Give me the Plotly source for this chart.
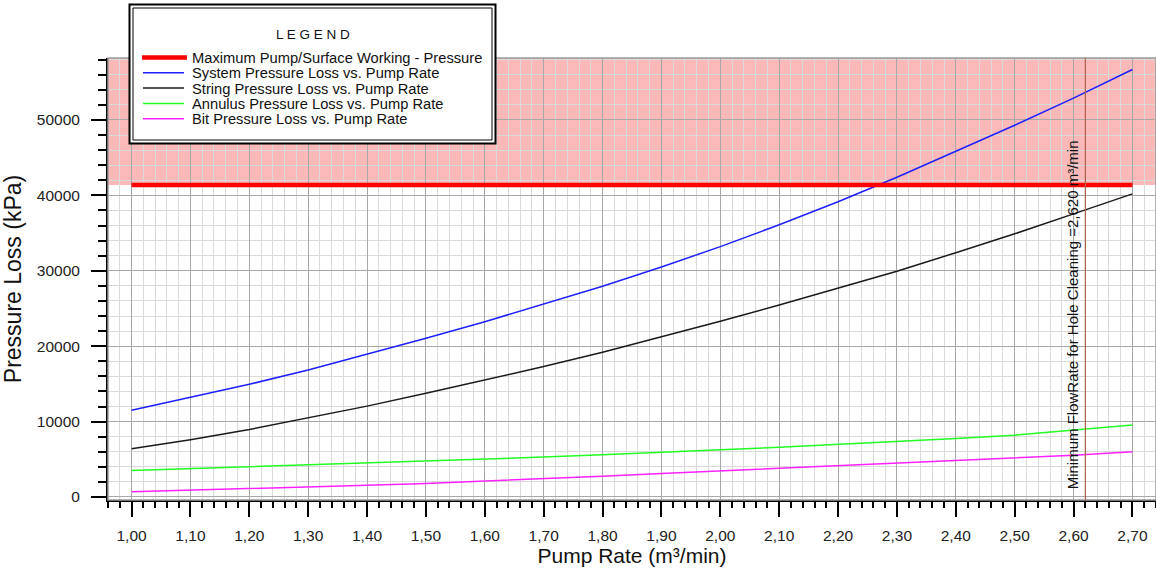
import plotly.graph_objects as go

# ---- data -------------------------------------------------------------
pump_rate = [1.00, 1.10, 1.20, 1.30, 1.40, 1.50, 1.60, 1.70, 1.80,
             1.90, 2.00, 2.10, 2.20, 2.30, 2.40, 2.50, 2.60, 2.70]
system_loss = [11500, 13200, 14950, 16850, 18900, 21050, 23250, 25550, 27950,
               30500, 33200, 36100, 39150, 42400, 45800, 49300, 52900, 56700]
string_loss = [6400, 7600, 8950, 10450, 12050, 13750, 15500, 17300, 19200,
               21200, 23300, 25450, 27650, 29950, 32400, 34900, 37550, 40200]
annulus_loss = [3500, 3750, 4000, 4250, 4500, 4750, 5000, 5300, 5600,
                5900, 6250, 6600, 6950, 7350, 7750, 8200, 8900, 9550]
bit_loss = [700, 900, 1100, 1300, 1550, 1800, 2100, 2400, 2750,
            3100, 3450, 3800, 4100, 4450, 4800, 5150, 5550, 6000]

max_working_pressure = 41368          # kPa
min_hole_cleaning_rate = 2.62         # m³/min

series_names = [
    "Maximum Pump/Surface Working - Pressure",
    "System Pressure Loss vs. Pump Rate",
    "String Pressure Loss vs. Pump Rate",
    "Annulus Pressure Loss vs. Pump Rate",
    "Bit Pressure Loss vs. Pump Rate",
]
series_colors = ["#ff0000", "#1f1fff", "#1a1a1a", "#22ff22", "#ff22ff"]
series_widths = [4.5, 1.5, 1.5, 1.5, 1.5]

# ---- page geometry ----------------------------------------------------
W, H = 1156, 570
FONT = "Liberation Sans, Arial, sans-serif"


def px(x):
    return x / W


def py(y):
    return 1 - y / H


x_range = [0.96, 2.74]
y_range = [-400, 58220]

fig = go.Figure()

for name, vals, col, w in zip(series_names[1:],
                              [system_loss, string_loss, annulus_loss, bit_loss],
                              series_colors[1:], series_widths[1:]):
    fig.add_trace(go.Scatter(
        x=pump_rate, y=vals, mode="lines", name=name,
        line=dict(color=col, width=w), showlegend=False))

# pressure limit line, drawn over the curves
fig.add_trace(go.Scatter(
    x=[pump_rate[0], pump_rate[-1]],
    y=[max_working_pressure, max_working_pressure],
    mode="lines", name=series_names[0],
    line=dict(color=series_colors[0], width=series_widths[0]),
    showlegend=False, hoverinfo="skip"))

shapes = []
# zone above the working pressure limit
shapes.append(dict(type="rect", xref="x domain", yref="y",
                   x0=0, x1=1, y0=max_working_pressure, y1=y_range[1],
                   fillcolor="#fbb8b8", line=dict(width=0), layer="below"))
# plot frame
shapes.append(dict(type="rect", xref="x domain", yref="y domain",
                   x0=0, x1=1, y0=0, y1=1,
                   line=dict(color="#9a9a9a", width=1.5), layer="above"))
# minimum hole-cleaning flow rate
shapes.append(dict(type="line", xref="x", yref="y domain",
                   x0=min_hole_cleaning_rate, x1=min_hole_cleaning_rate,
                   y0=0, y1=1, line=dict(color="#b0604a", width=1.2),
                   layer="above"))

# legend box (double frame)
shapes.append(dict(type="rect", xref="paper", yref="paper",
                   x0=px(129.5), x1=px(495.5), y0=py(143.5), y1=py(4.5),
                   fillcolor="white", line=dict(color="black", width=2),
                   layer="above"))
shapes.append(dict(type="rect", xref="paper", yref="paper",
                   x0=px(133), x1=px(492), y0=py(140), y1=py(8),
                   line=dict(color="black", width=1), layer="above"))

annotations = [dict(text="L E G E N D", xref="paper", yref="paper",
                    x=px(312.5), y=py(35), xanchor="center", yanchor="middle",
                    showarrow=False, font=dict(family=FONT, size=13.5, color="#111"))]

for i, (name, col, w) in enumerate(zip(series_names, series_colors, series_widths)):
    row = 57.5 + i * 15.3
    x_start = 142 if i == 0 else 143
    x_end = 187 if i == 0 else 184
    shapes.append(dict(type="line", xref="paper", yref="paper",
                       x0=px(x_start), x1=px(x_end), y0=py(row), y1=py(row),
                       line=dict(color=col, width=w), layer="above"))
    annotations.append(dict(text=name, xref="paper", yref="paper",
                            x=px(190), y=py(row + 0.5), xanchor="left",
                            yanchor="middle", showarrow=False,
                            font=dict(family=FONT, size=14.7, color="#111")))

annotations.append(dict(
    text="Minimum FlowRate for Hole Cleaning =2,620 m³/min",
    xref="x", yref="y", x=min_hole_cleaning_rate, y=y_range[0],
    xanchor="right", yanchor="bottom", xshift=-2, yshift=9,
    textangle=-90, showarrow=False,
    font=dict(family=FONT, size=15, color="#111")))

axis_common = dict(
    showline=True, linecolor="black", linewidth=2,
    ticks="outside", ticklen=15, tickwidth=1.5, tickcolor="black",
    showgrid=True, gridcolor="#a8a8a8", gridwidth=1.4,
    zeroline=False, automargin=False,
    tickfont=dict(family=FONT, size=15.5, color="#222"),
)

minor_common = dict(ticks="outside", tickwidth=1.5, tickcolor="black",
                    showgrid=True, gridcolor="#dadada", gridwidth=1.4)

fig.update_layout(
    width=W, height=H,
    margin=dict(l=0, r=0, t=0, b=0),
    paper_bgcolor="white", plot_bgcolor="white",
    separators=",.",
    showlegend=False,
    shapes=shapes, annotations=annotations,
    xaxis=dict(
        axis_common,
        domain=[px(108), 1], range=x_range,
        tickmode="linear", tick0=1.0, dtick=0.1, tickformat=".2f",
        ticklabelstandoff=5,
        minor=dict(minor_common, dtick=0.02, tick0=1.0, ticklen=6),
        title=dict(text="Pump Rate (m³/min)", standoff=5,
                   font=dict(family=FONT, size=21, color="#111")),
    ),
    yaxis=dict(
        axis_common,
        domain=[1 - 500 / H, 1 - 58 / H], range=y_range,
        tickmode="linear", tick0=0, dtick=10000, tickformat="d",
        ticklabelstandoff=8,
        minor=dict(minor_common, dtick=2000, tick0=0, ticklen=8),
        title=dict(text="Pressure Loss (kPa)", standoff=10,
                   font=dict(family=FONT, size=23, color="#111")),
    ),
)

fig.write_html("out.html")
